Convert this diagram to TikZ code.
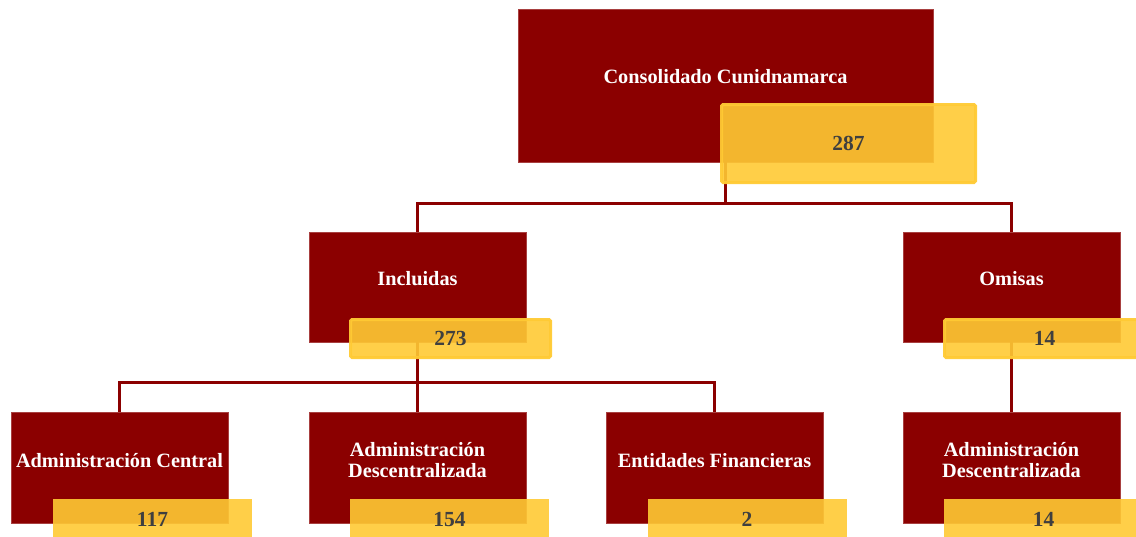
\documentclass[tikz,border=0pt]{standalone}
\usepackage{fontspec}
\setmainfont{Liberation Serif}
\definecolor{boxred}{RGB}{139,0,0}
\definecolor{boxyellow}{RGB}{255,202,52}
\definecolor{numgray}{RGB}{63,63,63}
\begin{document}
\begin{tikzpicture}[x=1pt,y=-1pt,
  redbox/.style={fill=boxred,draw=boxred!75!white,line width=0.4pt,inner sep=0pt,minimum width=217pt,minimum height=110pt},
  ybox/.style={fill=boxyellow,fill opacity=0.9,draw=boxyellow,draw opacity=0.95,line width=3pt,rounded corners=1.5pt,inner sep=0pt,minimum width=200pt,minimum height=38pt,text opacity=1,text=numgray,font=\fontsize{21.5}{23}\selectfont\bfseries},
  ybottom/.style={fill=boxyellow,fill opacity=0.9,draw=none,inner sep=0pt,minimum width=199pt,minimum height=41pt,text opacity=1,text=numgray,font=\fontsize{21.5}{23}\selectfont\bfseries},
  title/.style={text=white,font=\fontsize{20.3}{21}\selectfont\bfseries,align=center,inner sep=0pt},
  conn/.style={draw=boxred,line width=3pt}]
\useasboundingbox (0,0) rectangle (1136,536);
\clip (0,0) rectangle (1136,536);
% red boxes
\node[redbox,minimum width=415pt,minimum height=153pt] (top) at (725.5,85.5) {};
\node[redbox] (inc) at (417.5,287) {};
\node[redbox] (omi) at (1011.5,287) {};
\node[redbox,minimum height=111pt] (adc) at (119.5,467.5) {};
\node[redbox,minimum height=111pt] (add) at (417.5,467.5) {};
\node[redbox,minimum height=111pt] (ent) at (714.5,467.5) {};
\node[redbox,minimum height=111pt] (add2) at (1011.5,467.5) {};
\coordinate (bus1) at ([yshift=-41pt]top.south);
\coordinate (bus2) at ([yshift=-40pt]inc.south);
% titles
\node[title] (ttop) at ([yshift=8.5pt]top.center) {Consolidado Cunidnamarca};
\node[title] (tinc) at ([yshift=8pt]inc.center) {Incluidas};
\node[title] (tomi) at ([yshift=8pt]omi.center) {Omisas};
\node[title] (tadc) at ([yshift=6.5pt]adc.center) {Administración Central};
\node[title] (tadd) at ([yshift=7pt]add.center) {Administración\\Descentralizada};
\node[title] (tent) at ([yshift=6.5pt]ent.center) {Entidades Financieras};
\node[title] (tadd2) at ([yshift=7pt]add2.center) {Administración\\Descentralizada};
% connectors
\draw[conn] (top.south) -- (bus1) -| (inc.north);
\draw[conn] (bus1) -| (omi.north);
\draw[conn] (inc.south) -- (bus2) -| (adc.north);
\draw[conn] (bus2) -- (add.north);
\draw[conn] (bus2) -| (ent.north);
\draw[conn] (omi.south) -- (add2.north);
% yellow value boxes
\node[ybox,minimum width=254pt,minimum height=78pt] (n287) at (848.5,143.5) {287};
\node[ybox] (n273) at (450.5,338.5) {273};
\node[ybox] (n14a) at (1044.5,338.5) {14};
\node[ybottom] (n117) at (152.5,519.5) {117};
\node[ybottom] (n154) at (449.5,519.5) {154};
\node[ybottom] (n2) at (747,519.5) {2};
\node[ybottom] (n14b) at (1043.5,519.5) {14};
\end{tikzpicture}
\end{document}
